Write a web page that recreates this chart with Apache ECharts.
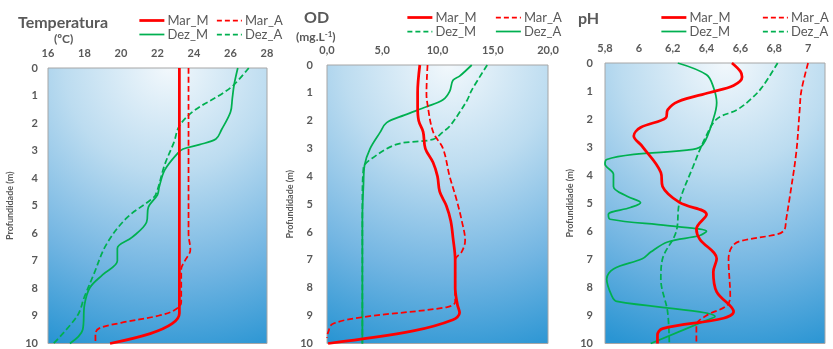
<!DOCTYPE html>
<html>
<head>
<meta charset="utf-8">
<script src="https://cdn.jsdelivr.net/npm/echarts@6/dist/echarts.min.js"></script>
<style>
  html, body { margin: 0; padding: 0; background: #fff; }
  #chart { width: 833px; height: 349px; }
</style>
</head>
<body>
<div id="chart"></div>
<script>
// depth axis (m)
const depthTicks = [0, 1, 2, 3, 4, 5, 6, 7, 8, 9, 10];

// Temperatura (ºC)  -> [value, depth]
const tempTicks = [16, 18, 20, 22, 24, 26, 28];
const tempMarM = [[23.2,0],[23.2,4],[23.2,8.9],[22.8,9.28],[21.6,9.64],[19.4,10]];
const tempMarA = [[23.7,0],[23.7,6.0],[23.8,6.6],[23.5,7.0],[23.3,7.3],[23.3,8.5],[22.9,8.8],[22.0,9.0],[20.0,9.25],[18.8,9.45],[18.6,9.65],[18.6,10]];
const tempDezM = [[26.4,0],[26.2,0.6],[26.1,1.1],[26.0,1.6],[25.5,2.25],[25.2,2.58],[24.3,2.78],[23.4,2.94],[23.1,3.1],[22.4,3.7],[22.1,4.3],[22.0,4.6],[21.5,5.05],[21.4,5.6],[20.6,6.15],[19.8,6.55],[19.8,7.0],[19.0,7.5],[18.3,7.97],[18.0,8.6],[17.9,9.5],[17.2,10]];
const tempDezA = [[27.0,0],[26.2,0.6],[25.5,0.95],[24.0,1.55],[23.2,2.1],[22.9,2.7],[22.4,3.5],[21.9,4.6],[21.6,4.8],[20.3,5.45],[19.2,6.4],[18.5,7.5],[18.0,8.3],[17.6,9.0],[16.3,10]];

// OD (mg.L-1)
const odTicks = [0, 5, 10, 15, 20];
const odMarM = [[8.4,0],[8.2,1],[8.2,1.5],[8.3,2.0],[8.7,2.4],[8.9,3.0],[9.6,3.5],[10.0,4.0],[10.2,4.55],[10.8,5.05],[11.2,5.6],[11.4,6.2],[11.6,7.0],[11.6,8.0],[11.8,8.6],[12.0,8.9],[11.4,9.15],[7.8,9.55],[0.1,10]];
const odMarA = [[9.1,0],[9.0,1],[9.05,1.3],[9.6,2.4],[10.5,3.0],[11.1,4.0],[11.7,4.8],[12.2,5.6],[12.5,6.3],[12.2,6.7],[11.6,7.0],[11.6,8.5],[10.8,8.7],[3.3,9.05],[0.5,9.3],[0.1,9.6],[0,9.8]];
const odDezM = [[14.5,0],[13.1,0.9],[12.7,1.25],[12.0,1.7],[11.1,2.2],[10.5,2.4],[9.6,2.67],[6.3,2.85],[3.9,3.4],[3.3,3.7],[3.2,5],[3.2,10]];
const odDezA = [[13.1,0],[12.0,0.4],[11.4,0.55],[11.1,0.95],[10.5,1.25],[9.0,1.5],[7.0,1.8],[5.4,2.07],[4.8,2.42],[3.9,3.0],[3.4,3.6],[3.3,4.3],[3.2,5.5],[3.2,10]];

// pH
const phTicks = [5.8, 6, 6.2, 6.4, 6.6, 6.8, 7];
const phMarM = [[6.55,0],[6.6,0.3],[6.61,0.5],[6.56,0.8],[6.42,1.05],[6.23,1.38],[6.17,1.67],[6.16,1.95],[6.01,2.3],[5.97,2.6],[6.02,2.97],[6.13,3.9],[6.14,4.4],[6.24,4.97],[6.40,5.4],[6.34,5.92],[6.36,6.28],[6.46,6.98],[6.44,7.45],[6.46,8.16],[6.56,8.87],[6.5,9.1],[6.14,9.47],[6.11,9.7],[6.11,10]];
const phMarA = [[7.0,0],[6.96,1.0],[6.95,1.7],[6.93,3.2],[6.89,4.85],[6.87,5.6],[6.86,5.95],[6.82,6.1],[6.6,6.35],[6.55,6.55],[6.53,7.0],[6.54,8.3],[6.52,8.65],[6.4,9.0],[6.34,9.35],[6.34,10]];
const phDezM = [[6.23,0],[6.40,0.42],[6.44,0.85],[6.46,1.42],[6.44,2.0],[6.38,2.9],[6.32,3.08],[5.97,3.26],[5.81,3.44],[5.80,3.6],[5.85,3.97],[5.85,4.4],[5.93,4.75],[6.01,4.98],[5.95,5.15],[5.82,5.4],[5.83,5.57],[6.17,5.8],[6.40,6.0],[6.36,6.15],[6.17,6.38],[6.07,6.74],[6.02,6.98],[5.85,7.34],[5.81,7.7],[5.84,8.3],[5.87,8.5],[6.36,8.87],[6.45,9.04],[6.40,9.17],[6.07,10]];
const phDezA = [[6.82,0],[6.73,0.85],[6.66,1.3],[6.58,1.67],[6.46,2.0],[6.39,2.7],[6.32,3.7],[6.24,4.97],[6.22,6.03],[6.14,6.98],[6.13,7.7],[6.17,8.87],[6.18,10]];

const RED = '#ff0000', GREEN = '#00b050', TXT = '#595959';
const FONT = 'Lato, "Open Sans", sans-serif';
const DASH = [6, 3];

var chart = echarts.init(document.getElementById('chart'));

function bg() {
  return new echarts.graphic.RadialGradient(0.55, 0, 1.35, [
    { offset: 0, color: '#f2f8fc' },
    { offset: 0.35, color: '#bcdcf0' },
    { offset: 0.7, color: '#72b5e2' },
    { offset: 1, color: '#2a95d3' }
  ]);
}

const grids = [
  { left: 48, top: 68, width: 219, height: 279 },
  { left: 327, top: 65, width: 221, height: 282 },
  { left: 605, top: 63, width: 220, height: 282 }
].map(g => Object.assign(g, { show: true, backgroundColor: bg(), borderColor: '#a6a6a6', borderWidth: 1 }));

function comma(v, dec) {
  return (dec ? v.toFixed(dec) : String(Math.round(v * 10) / 10)).replace('.', ',');
}

function xAx(i, ticks, fmt) {
  return {
    type: 'value', gridIndex: i, position: 'top',
    min: ticks[0], max: i === 2 ? 7.1 : ticks[ticks.length - 1],
    interval: ticks[1] - ticks[0],
    axisLine: { show: false }, axisTick: { show: false }, splitLine: { show: false },
    axisLabel: {
      margin: 9, color: TXT, fontWeight: 'bold', fontSize: 11, fontFamily: FONT,
      showMaxLabel: i !== 2,
      formatter: fmt
    }
  };
}

function yAx(i, margin, gap) {
  return {
    type: 'value', gridIndex: i, inverse: true,
    min: depthTicks[0], max: depthTicks[depthTicks.length - 1], interval: 1,
    axisLine: { show: false }, axisTick: { show: false }, splitLine: { show: false },
    axisLabel: { margin: margin, color: TXT, fontWeight: 'bold', fontSize: 11, fontFamily: FONT },
    name: 'Profundidade (m)', nameLocation: 'middle', nameRotate: 90, nameGap: gap,
    nameTextStyle: { color: TXT, fontWeight: 'bold', fontSize: 9, fontFamily: FONT }
  };
}

function line(id, name, data, i, color, dashed, width) {
  return {
    type: 'line', name: id + '|' + name, data: data,
    xAxisIndex: i, yAxisIndex: i,
    smooth: 0.35, symbol: 'none',
    lineStyle: { color: color, width: width, type: dashed ? DASH : 'solid' },
    itemStyle: { color: color }
  };
}

// legend entries: [seriesName, color, dashed, width]
function legend(left, top, items) {
  return {
    left: left, top: top, orient: 'vertical', itemGap: 1,
    itemWidth: 25, itemHeight: 14,
    data: items.map(it => ({
      name: it[0],
      itemStyle: { opacity: 0 },
      lineStyle: { color: it[1], width: it[3], type: it[2] ? [5, 3] : 'solid' }
    })),
    formatter: n => n.split('|')[1],
    textStyle: { color: TXT, fontSize: 13, fontFamily: FONT, padding: [0, 0, 0, -2] },
    selectedMode: false
  };
}

const option = {
  animation: false,
  title: [
    { text: 'Temperatura', left: 13, top: 10, textStyle: { color: TXT, fontSize: 16, fontWeight: 'bold', fontFamily: FONT } },
    { text: '(ºC)', left: 49, top: 28, textStyle: { color: TXT, fontSize: 12, fontWeight: 'bold', fontFamily: FONT } },
    { text: 'OD', left: 299, top: 5, textStyle: { color: TXT, fontSize: 16, fontWeight: 'bold', fontFamily: FONT } },
    { text: '(mg.L{s|-1})', left: 291, top: 25, textStyle: { color: TXT, fontSize: 12, fontWeight: 'bold', fontFamily: FONT,
        rich: { s: { fontSize: 8, fontWeight: 'bold', color: TXT, verticalAlign: 'top', padding: [0, 0, 6, 0] } } } },
    { text: 'pH', left: 573, top: 6, textStyle: { color: TXT, fontSize: 16, fontWeight: 'bold', fontFamily: FONT } }
  ],
  legend: [
    legend(133, 9, [['T|Mar_M', RED, false, 2.75], ['T|Dez_M', GREEN, false, 1.75]]),
    legend(211, 9, [['T|Mar_A', RED, true, 1.75], ['T|Dez_A', GREEN, true, 1.75]]),
    legend(401, 6, [['O|Mar_M', RED, false, 2.75], ['O|Dez_M', GREEN, true, 1.75]]),
    legend(490, 6, [['O|Mar_A', RED, true, 1.75], ['O|Dez_A', GREEN, false, 1.75]]),
    legend(655, 6, [['P|Mar_M', RED, false, 2.75], ['P|Dez_M', GREEN, false, 1.75]]),
    legend(757, 6, [['P|Mar_A', RED, true, 1.75], ['P|Dez_A', GREEN, true, 1.75]])
  ],
  grid: grids,
  xAxis: [
    xAx(0, tempTicks, v => String(v)),
    xAx(1, odTicks, v => comma(v, 1)),
    xAx(2, phTicks, v => comma(v))
  ],
  yAxis: [yAx(0, 10, 33), yAx(1, 14, 32), yAx(2, 12, 30)],
  series: [
    line('T', 'Dez_M', tempDezM, 0, GREEN, false, 1.75),
    line('T', 'Dez_A', tempDezA, 0, GREEN, true, 1.75),
    line('T', 'Mar_A', tempMarA, 0, RED, true, 1.75),
    line('T', 'Mar_M', tempMarM, 0, RED, false, 2.75),
    line('O', 'Dez_M', odDezM, 1, GREEN, true, 1.75),
    line('O', 'Dez_A', odDezA, 1, GREEN, false, 1.75),
    line('O', 'Mar_A', odMarA, 1, RED, true, 1.75),
    line('O', 'Mar_M', odMarM, 1, RED, false, 2.75),
    line('P', 'Dez_M', phDezM, 2, GREEN, false, 1.75),
    line('P', 'Dez_A', phDezA, 2, GREEN, true, 1.75),
    line('P', 'Mar_A', phMarA, 2, RED, true, 1.75),
    line('P', 'Mar_M', phMarM, 2, RED, false, 2.75)
  ]
};

chart.setOption(option);
</script>
</body>
</html>
